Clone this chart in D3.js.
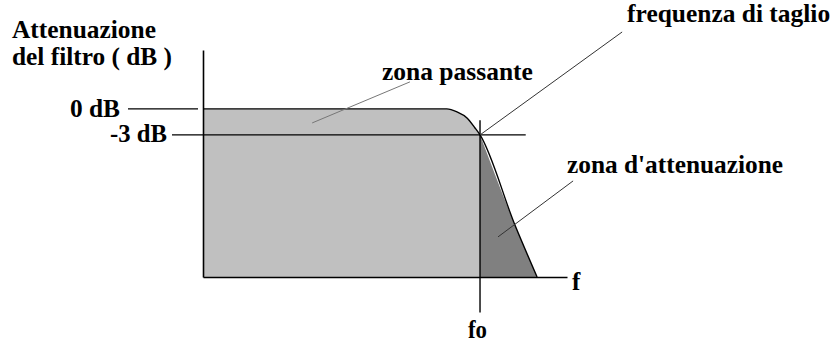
<!DOCTYPE html>
<html>
<head>
<meta charset="utf-8">
<script src="https://cdn.jsdelivr.net/npm/d3@7"></script>
<style>
  body { margin: 0; background: #fff; }
</style>
</head>
<body>
<div id="chart"></div>
<script>
// frequency normalised to the cut-off (fo = 1), attenuation in dB
const freq = [0, 0.88, 0.917, 0.953, 0.982, 1.0, 1.126, 1.206];
const attenuation = [0, 0, -0.35, -1.04, -2.2, -3, -13.4, -19.4];

const cutoffFreq = 1;
const tickValuesDb = [0, -3];
const tickLabelsDb = ["0 dB", "-3 dB"];
const axisTitle = ["Attenuazione", "del filtro ( dB )"];

// annotation leaders, in data units (freq, dB)
const annoText = ["zona passante", "frequenza di taglio", "zona d'attenuazione"];
const annoFrom = [[0.394, -1.62], [1.0, -3], [1.065, -14.77]];
const annoTo = [[0.747, 3.12], [1.513, 8.88], [1.336, -8.31]];
const annoLabelAt = [[0.646, 3.35], [1.531, 10.04], [1.314, -7.38]];

const width = 833, height = 343;

const svg = d3.select("#chart")
    .append("svg")
    .attr("width", width)
    .attr("height", height);

// helper for the bold serif labels
function label(xp, yp, t, len, anchor) {
    const el = svg.append("text")
        .attr("x", xp).attr("y", yp)
        .attr("font-family", "Liberation Serif")
        .attr("font-weight", "bold")
        .attr("font-size", 25)
        .attr("fill", "#000")
        .attr("text-anchor", anchor || "start")
        .text(t);
    if (len) el.attr("textLength", len).attr("lengthAdjust", "spacingAndGlyphs");
    return el;
}

// scales
const x = d3.scaleLinear().domain([0, 1.314]).range([203, 567]);
const y = d3.scaleLinear().domain([-19.4, 6.8]).range([277, 50]);

const data = freq.map((f, i) => ({ f: f, db: attenuation[i] }));
const pass = data.filter(d => d.f <= cutoffFreq);
const stop = data.filter(d => d.f >= cutoffFreq);

const area = d3.area()
    .x(d => x(d.f))
    .y0(y(-19.4))
    .y1(d => y(d.db))
    .curve(d3.curveMonotoneX);

// pass band (light) and attenuation band (dark)
svg.append("path").datum(pass).attr("d", area).attr("fill", "#c0c0c0");
svg.append("path").datum(stop).attr("d", area).attr("fill", "#808080");

// response curve outline
svg.append("path")
    .datum(data)
    .attr("fill", "none")
    .attr("stroke", "#000")
    .attr("stroke-width", 1.4)
    .attr("d", d3.line().x(d => x(d.f)).y(d => y(d.db)).curve(d3.curveMonotoneX));

// axes (plain lines, no ticks)
svg.append("g")
    .attr("transform", `translate(${x(0)},0)`)
    .call(d3.axisLeft(y).tickValues([]).tickSizeOuter(0))
    .select(".domain").attr("stroke-width", 1.6);
svg.append("g")
    .attr("transform", `translate(0,${y(-19.4)})`)
    .call(d3.axisBottom(x).tickValues([]).tickSizeOuter(0))
    .select(".domain").attr("stroke-width", 1.6);

// dB reference lines
svg.append("line")
    .attr("x1", 128).attr("x2", x(0) - 5)
    .attr("y1", y(tickValuesDb[0])).attr("y2", y(tickValuesDb[0]))
    .attr("stroke", "#000").attr("stroke-width", 1.4);
svg.append("line")
    .attr("x1", 172).attr("x2", x(1.165))
    .attr("y1", y(tickValuesDb[1])).attr("y2", y(tickValuesDb[1]))
    .attr("stroke", "#000").attr("stroke-width", 1.4);

label(120, y(tickValuesDb[0]) + 8, tickLabelsDb[0], 50, "end");
label(167, y(tickValuesDb[1]) + 7, tickLabelsDb[1], 57, "end");

// cut-off frequency marker
svg.append("line")
    .attr("x1", x(cutoffFreq)).attr("x2", x(cutoffFreq))
    .attr("y1", y(-1.3)).attr("y2", y(-23.5))
    .attr("stroke", "#000").attr("stroke-width", 1.4);
label(468, 338, "fo", 19);

label(572, 290, "f");

// axis title
const titleLen = [144, 160];
axisTitle.forEach((t, i) => label(12, 38 + i * 27, t, titleLen[i]));

// annotations
const annoLen = [151, 203, 216];
annoText.forEach((t, i) => {
    svg.append("line")
        .attr("x1", x(annoFrom[i][0])).attr("y1", y(annoFrom[i][1]))
        .attr("x2", x(annoTo[i][0])).attr("y2", y(annoTo[i][1]))
        .attr("stroke", i == 0 ? "#777" : "#333")
        .attr("stroke-width", 1);
    label(x(annoLabelAt[i][0]), y(annoLabelAt[i][1]), t, annoLen[i]);
});
</script>
</body>
</html>
